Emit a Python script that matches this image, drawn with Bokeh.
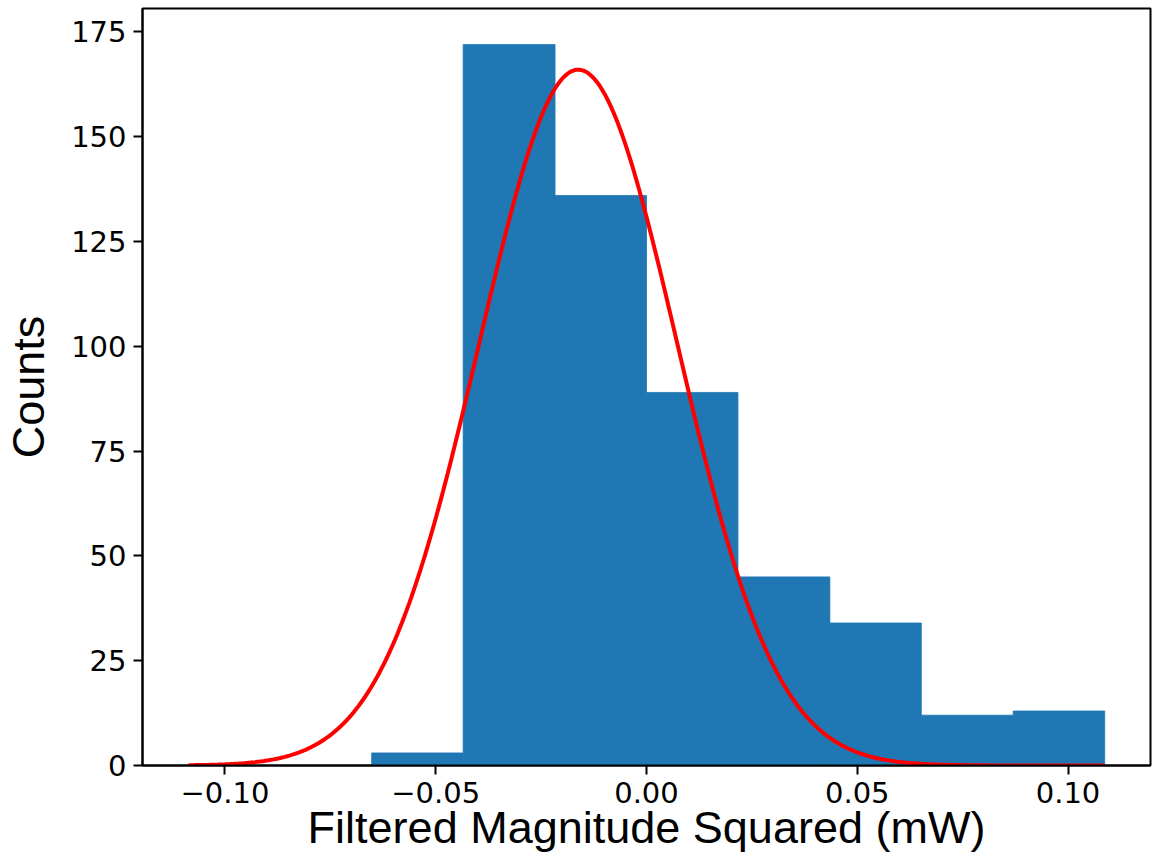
import numpy as np
from bokeh.plotting import figure
from bokeh.models import FixedTicker, CustomJSTickFormatter, Range1d, ColumnDataSource
from bokeh.embed import file_html
from bokeh.resources import INLINE

# Histogram data
bin_edges = [-0.0652, -0.0435, -0.0217, 0.0000, 0.0217, 0.0435, 0.0652, 0.0870, 0.1087]
counts = [3, 172, 136, 89, 45, 34, 12, 13]

# Gaussian fit parameters
fit_amplitude = 166.0
fit_mean = -0.0162
fit_sigma = 0.0235
fit_x_min = -0.1087
fit_x_max = 0.1087

x_ticks = [-0.10, -0.05, 0.00, 0.05, 0.10]
y_ticks = [0, 25, 50, 75, 100, 125, 150, 175]

fit_x = np.linspace(fit_x_min, fit_x_max, 400)
fit_y = fit_amplitude * np.exp(-((fit_x - fit_mean) ** 2) / (2 * fit_sigma ** 2))

p = figure(width=1152, height=857, output_backend="svg", toolbar_location=None,
           x_range=Range1d(-0.11957, 0.11957), y_range=Range1d(0, 180.6),
           min_border_left=138, min_border_right=2, min_border_top=8, min_border_bottom=92)

hist_src = ColumnDataSource(dict(left=bin_edges[:-1], right=bin_edges[1:], top=counts,
                                 bottom=[0] * len(counts)))
p.quad(left="left", right="right", top="top", bottom="bottom", source=hist_src,
       fill_color="#1f77b4", line_color="#1f77b4", line_width=0.8)
p.line(fit_x, fit_y, line_color="#ff0000", line_width=4)

p.xgrid.visible = False
p.ygrid.visible = False
p.background_fill_color = "white"
p.border_fill_color = "white"
p.outline_line_color = "black"
p.outline_line_width = 2

p.xaxis.ticker = FixedTicker(ticks=x_ticks)
p.yaxis.ticker = FixedTicker(ticks=y_ticks)
p.xaxis.formatter = CustomJSTickFormatter(code="return tick.toFixed(2).replace('-', '\u2212');")

for ax in (p.xaxis, p.yaxis):
    ax.axis_line_width = 2
    ax.axis_line_color = "black"
    ax.major_tick_line_width = 2
    ax.major_tick_line_color = "black"
    ax.major_tick_out = 9
    ax.major_tick_in = 0
    ax.minor_tick_out = 0
    ax.minor_tick_in = 0
    ax.major_label_text_font = "DejaVu Sans"
    ax.major_label_text_font_size = "29px"
    ax.major_label_text_color = "black"
    ax.major_label_standoff = 7
    ax.axis_label_text_font = "Liberation Sans"
    ax.axis_label_text_font_size = "45px"
    ax.axis_label_text_font_style = "normal"
    ax.axis_label_text_color = "black"

p.xaxis.axis_label = "Filtered Magnitude Squared (mW)"
p.yaxis.axis_label = "Counts"
p.xaxis.axis_label_standoff = -4
p.yaxis.axis_label_standoff = 14

open("out.html", "w").write(file_html(p, INLINE))
